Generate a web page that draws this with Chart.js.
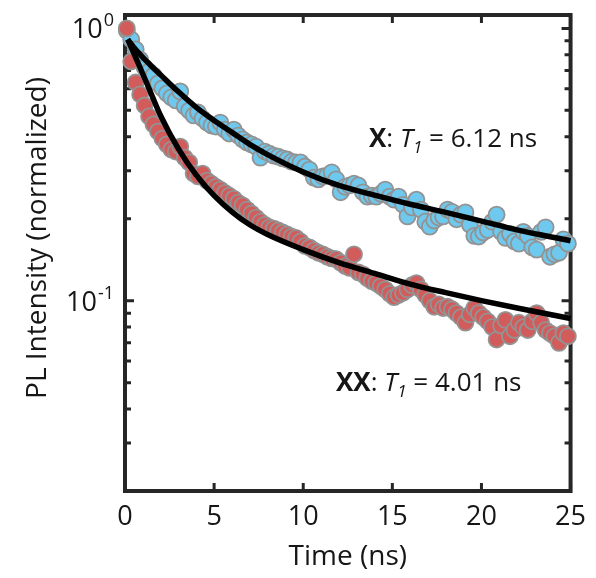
<!DOCTYPE html>
<html>
<head>
<meta charset="utf-8">
<script src="https://cdn.jsdelivr.net/npm/chart.js@4.4.1/dist/chart.umd.min.js"></script>
<style>
  html, body { margin: 0; padding: 0; background: #fff; }
  #wrap { width: 596px; height: 578px; }
</style>
</head>
<body>
<div id="wrap"><canvas id="decayChart" width="596" height="578"></canvas></div>
<script>
// measured time axis (ns)
var timeNs = [
  0.1, 0.35, 0.6, 0.85, 1.1, 1.35, 1.6, 1.85, 2.1, 2.35,
  2.6, 2.85, 3.1, 3.35, 3.6, 3.85, 4.1, 4.35, 4.6, 4.85,
  5.1, 5.35, 5.6, 5.85, 6.1, 6.35, 6.6, 6.85, 7.1, 7.35,
  7.6, 7.85, 8.1, 8.35, 8.6, 8.85, 9.1, 9.35, 9.6, 9.85,
  10.1, 10.35, 10.6, 10.85, 11.1, 11.35, 11.6, 11.85, 12.1, 12.35,
  12.6, 12.85, 13.1, 13.35, 13.6, 13.85, 14.1, 14.35, 14.6, 14.85,
  15.1, 15.35, 15.6, 15.85, 16.1, 16.35, 16.6, 16.85, 17.1, 17.35,
  17.6, 17.85, 18.1, 18.35, 18.6, 18.85, 19.1, 19.35, 19.6, 19.85,
  20.1, 20.35, 20.6, 20.85, 21.1, 21.35, 21.6, 21.85, 22.1, 22.35,
  22.6, 22.85, 23.1, 23.35, 23.6, 23.85, 24.1, 24.35, 24.6, 24.85
];

// exciton (X) normalized PL
var excitonX = [
  0.98, 0.911, 0.837, 0.769, 0.719, 0.695, 0.672, 0.628, 0.602, 0.577,
  0.558, 0.544, 0.587, 0.517, 0.499, 0.479, 0.491, 0.467, 0.451, 0.440,
  0.436, 0.451, 0.425, 0.411, 0.425, 0.404, 0.391, 0.381, 0.375, 0.368,
  0.335, 0.353, 0.347, 0.341, 0.338, 0.333, 0.330, 0.324, 0.322, 0.322,
  0.311, 0.303, 0.283, 0.279, 0.286, 0.288, 0.296, 0.279, 0.250, 0.262,
  0.265, 0.269, 0.265, 0.250, 0.241, 0.243, 0.241, 0.247, 0.256, 0.241,
  0.235, 0.241, 0.225, 0.204, 0.220, 0.235, 0.216, 0.195, 0.187, 0.197,
  0.202, 0.204, 0.216, 0.212, 0.199, 0.207, 0.211, 0.190, 0.173, 0.172,
  0.178, 0.182, 0.195, 0.207, 0.179, 0.170, 0.176, 0.165, 0.162, 0.179,
  0.173, 0.157, 0.154, 0.179, 0.186, 0.145, 0.148, 0.150, 0.168, 0.162
];

// biexciton (XX) normalized PL
var biexcitonXX = [
  1.0, 0.756, 0.633, 0.572, 0.521, 0.475, 0.444, 0.418, 0.394, 0.375,
  0.359, 0.353, 0.368, 0.335, 0.322, 0.293, 0.286, 0.293, 0.276, 0.269,
  0.262, 0.256, 0.249, 0.243, 0.237, 0.229, 0.224, 0.216, 0.209, 0.202,
  0.195, 0.190, 0.186, 0.184, 0.181, 0.178, 0.175, 0.172, 0.170, 0.165,
  0.159, 0.157, 0.153, 0.150, 0.148, 0.145, 0.143, 0.142, 0.138, 0.134,
  0.132, 0.148, 0.127, 0.125, 0.121, 0.118, 0.116, 0.113, 0.110, 0.106,
  0.103, 0.105, 0.107, 0.110, 0.114, 0.116, 0.110, 0.105, 0.100, 0.095,
  0.097, 0.094, 0.095, 0.093, 0.090, 0.087, 0.083, 0.089, 0.094, 0.090,
  0.087, 0.084, 0.080, 0.072, 0.081, 0.085, 0.074, 0.078, 0.083, 0.080,
  0.078, 0.084, 0.090, 0.083, 0.078, 0.076, 0.074, 0.070, 0.076, 0.074
];

// fitted decay curves
var fitTime = [0.15, 0.5, 1, 1.5, 2, 3, 4, 5, 6, 7, 8, 10, 12, 14, 16, 18, 20, 22, 25];
var fitX =  [0.911, 0.851, 0.782, 0.725, 0.675, 0.585, 0.513, 0.459, 0.415, 0.375, 0.344, 0.297, 0.265, 0.244, 0.226, 0.211, 0.196, 0.182, 0.166];
var fitXX = [0.911, 0.809, 0.680, 0.569, 0.478, 0.361, 0.289, 0.243, 0.212, 0.190, 0.175, 0.154, 0.138, 0.126, 0.115, 0.107, 0.100, 0.094, 0.086];

var xTicks = [0, 5, 10, 15, 20, 25];
var yTicks = [0.02, 0.03, 0.04, 0.05, 0.06, 0.07, 0.08, 0.09, 0.1, 0.2, 0.3, 0.4, 0.5, 0.6, 0.7, 0.8, 0.9, 1];
var yDecades = [1, 0.1];
var yDecadeExp = ['0', '-1'];

var textColor = '#161616';
var axisColor = '#262626';
var fontFam = '"Open Sans", "Noto Sans", sans-serif';

function pts(xs, ys) {
  return xs.map(function(x, i) { return { x: x, y: ys[i] }; });
}

var framePlugin = {
  id: 'frame',
  beforeDatasetsDraw: function(chart) {
    var ctx = chart.ctx, a = chart.chartArea;
    var xs = chart.scales.x, ys = chart.scales.y;
    ctx.save();
    ctx.strokeStyle = axisColor;
    ctx.lineWidth = 3;
    ctx.beginPath();
    xs.ticks.forEach(function(t) {
      var px = xs.getPixelForValue(t.value);
      ctx.moveTo(px, a.bottom); ctx.lineTo(px, a.bottom - 8);
      ctx.moveTo(px, a.top); ctx.lineTo(px, a.top + 8);
    });
    ys.ticks.forEach(function(t) {
      var py = ys.getPixelForValue(t.value);
      var len = yDecades.indexOf(t.value) >= 0 ? 9 : 6;
      ctx.moveTo(a.left, py); ctx.lineTo(a.left + len, py);
      ctx.moveTo(a.right, py); ctx.lineTo(a.right - len, py);
    });
    ctx.stroke();
    ctx.lineWidth = 4;
    ctx.strokeRect(a.left, a.top, a.right - a.left, a.bottom - a.top);
    ctx.restore();
  },
  afterDraw: function(chart) {
    var ctx = chart.ctx, a = chart.chartArea, ys = chart.scales.y;
    ctx.save();
    ctx.fillStyle = textColor;

    // y decade labels with superscripts
    yDecades.forEach(function(v, i) {
      var py = ys.getPixelForValue(v);
      var right = a.left - 11;
      ctx.font = '18px ' + fontFam;
      ctx.textAlign = 'right';
      ctx.textBaseline = 'alphabetic';
      var supW = ctx.measureText(yDecadeExp[i]).width;
      ctx.fillText(yDecadeExp[i], right, py - 2);
      ctx.font = '27px ' + fontFam;
      ctx.fillText('10', right - supW - 1, py + 10);
    });

    // y axis title
    ctx.save();
    ctx.translate(38, 238);
    ctx.rotate(-Math.PI / 2);
    ctx.font = '28px ' + fontFam;
    ctx.textAlign = 'center';
    ctx.textBaseline = 'middle';
    ctx.fillText('PL Intensity (normalized)', 0, 0);
    ctx.restore();

    // lifetime annotations
    function note(x, y, bold, value) {
      var parts = [
        { t: bold, f: 'bold 26px ' + fontFam, dy: 0 },
        { t: ': ', f: '26px ' + fontFam, dy: 0 },
        { t: 'T', f: 'italic 26px ' + fontFam, dy: 0 },
        { t: '1', f: 'italic 17px ' + fontFam, dy: 6 },
        { t: ' = ' + value + ' ns', f: '26px ' + fontFam, dy: 0 }
      ];
      ctx.textAlign = 'left';
      ctx.textBaseline = 'alphabetic';
      parts.forEach(function(p) {
        ctx.font = p.f;
        ctx.fillText(p.t, x, y + p.dy);
        x += ctx.measureText(p.t).width;
      });
    }
    note(369, 147, 'X', '6.12');
    note(336, 391, 'XX', '4.01');
    ctx.restore();
  }
};

new Chart(document.getElementById('decayChart'), {
  type: 'scatter',
  data: {
    datasets: [
      {
        type: 'line', label: 'X fit', data: pts(fitTime, fitX),
        borderColor: '#000', borderWidth: 5.5, pointRadius: 0,
        cubicInterpolationMode: 'monotone', fill: false, order: 0, clip: false
      },
      {
        type: 'line', label: 'XX fit', data: pts(fitTime, fitXX),
        borderColor: '#000', borderWidth: 5.5, pointRadius: 0,
        cubicInterpolationMode: 'monotone', fill: false, order: 0, clip: false
      },
      {
        label: 'XX', data: pts(timeNs, biexcitonXX),
        backgroundColor: '#d15c5b', borderColor: '#939393', borderWidth: 1.8,
        pointRadius: 8, order: 1, clip: false
      },
      {
        label: 'X', data: pts(timeNs, excitonX),
        backgroundColor: '#6fc8ed', borderColor: '#939393', borderWidth: 1.8,
        pointRadius: 8, order: 2, clip: false
      }
    ]
  },
  options: {
    responsive: false,
    animation: false,
    devicePixelRatio: 1,
    layout: { padding: { top: 15, right: 25, left: 0, bottom: 0 } },
    plugins: { legend: { display: false }, tooltip: { enabled: false } },
    scales: {
      x: {
        type: 'linear', min: 0, max: 25,
        afterBuildTicks: function(s) { s.ticks = xTicks.map(function(v) { return { value: v }; }); },
        afterFit: function(s) { s.height = 87; },
        grid: { display: false, drawTicks: false },
        border: { display: false },
        ticks: { color: textColor, font: { family: fontFam, size: 27 }, padding: 10, maxRotation: 0 },
        title: { display: true, text: 'Time (ns)', color: textColor, font: { family: fontFam, size: 28 }, padding: { top: 2, bottom: 4 } }
      },
      y: {
        type: 'logarithmic', min: 0.02, max: 1.12,
        afterBuildTicks: function(s) { s.ticks = yTicks.map(function(v) { return { value: v }; }); },
        afterFit: function(s) { s.width = 125; },
        grid: { display: false, drawTicks: false },
        border: { display: false },
        ticks: { display: false }
      }
    }
  },
  plugins: [framePlugin]
});
</script>
</body>
</html>
